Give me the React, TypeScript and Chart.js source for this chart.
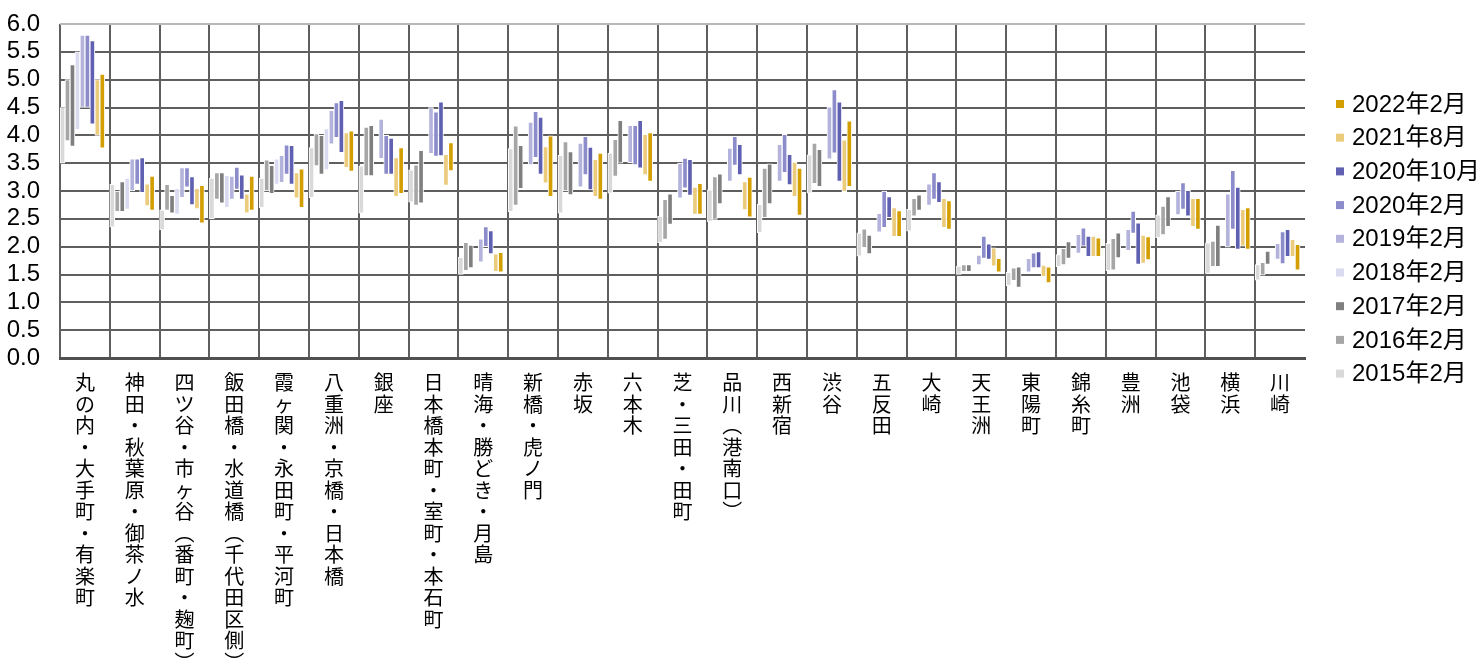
import { useEffect, useRef } from 'react';
import { Chart, registerables } from 'chart.js';

Chart.register(...registerables);

type Range = [number, number] | null;

// Office areas, left to right
const areas: string[] = [
  '丸の内・大手町・有楽町',
  '神田・秋葉原・御茶ノ水',
  '四ツ谷・市ヶ谷（番町・麹町）',
  '飯田橋・水道橋（千代田区側）',
  '霞ヶ関・永田町・平河町',
  '八重洲・京橋・日本橋',
  '銀座',
  '日本橋本町・室町・本石町',
  '晴海・勝どき・月島',
  '新橋・虎ノ門',
  '赤坂',
  '六本木',
  '芝・三田・田町',
  '品川（港南口）',
  '西新宿',
  '渋谷',
  '五反田',
  '大崎',
  '天王洲',
  '東陽町',
  '錦糸町',
  '豊洲',
  '池袋',
  '横浜',
  '川崎',
];

// Low / high of each survey, per area
const s2015: Range[] = [
  [3.5, 4.5], [2.35, 3.12], [2.3, 2.66], [2.5, 3.23], [2.7, 3.23],
  [2.88, 3.78], [2.6, 3.45], [2.8, 3.38], [1.5, 1.81], [2.63, 3.76],
  [2.6, 3.64], [2.96, 3.68], [2.07, 2.55], [2.45, 3.02], [2.25, 2.76],
  [2.96, 3.65], [1.83, 2.25], [2.28, 2.67], [1.5, 1.65], [1.3, 1.54],
  [1.64, 1.86], [1.57, 2.06], [2.16, 2.57], [1.52, 2.07], [1.4, 1.68],
];
const s2016: Range[] = [
  [3.9, 5.0], [2.63, 3.0], [2.65, 3.12], [2.85, 3.33], [3.0, 3.56],
  [3.45, 4.03], [3.27, 4.15], [2.74, 3.47], [1.57, 2.08], [2.74, 4.17],
  [3.0, 3.89], [3.26, 3.93], [2.13, 2.85], [2.49, 3.26], [2.52, 3.41],
  [3.13, 3.86], [1.98, 2.32], [2.55, 2.87], [1.55, 1.68], [1.39, 1.62],
  [1.67, 1.97], [1.58, 2.15], [2.21, 2.73], [1.64, 2.1], [1.49, 1.72],
];
const s2017: Range[] = [
  [3.8, 5.27], [2.63, 3.17], [2.6, 2.92], [2.78, 3.33], [2.95, 3.46],
  [3.3, 4.0], [3.27, 4.18], [2.78, 3.73], [1.62, 2.03], [3.04, 3.82],
  [2.93, 3.71], [3.5, 4.27], [2.4, 2.95], [2.77, 3.31], [2.77, 3.49],
  [3.08, 3.75], [1.87, 2.21], [2.65, 2.93], [1.55, 1.68], [1.27, 1.64],
  [1.79, 2.09], [1.8, 2.25], [2.36, 2.9], [1.64, 2.39], [1.68, 1.92],
];
const s2018: Range[] = [
  [4.1, 5.5], [2.67, 3.23], [2.58, 3.05], [2.7, 3.28], [3.12, 3.58],
  [3.38, 4.12], null, null, null, null,
  null, null, null, null, null,
  null, null, null, null, null,
  null, null, null, null, null,
];
const s2019: Range[] = [
  [4.5, 5.8], [3.0, 3.58], [2.88, 3.42], [2.85, 3.27], [3.15, 3.64],
  [3.84, 4.45], [3.58, 4.29], [3.67, 4.5], [1.72, 2.14], [3.47, 4.24],
  [3.07, 3.86], [3.51, 4.18], [2.87, 3.5], [3.17, 3.77], [3.17, 3.84],
  [3.57, 4.51], [2.26, 2.6], [2.74, 3.13], [1.67, 1.85], [1.54, 1.79],
  [1.88, 2.22], [1.93, 2.31], [2.57, 3.0], [1.99, 2.95], [1.77, 2.06],
];
const s2020Feb: Range[] = [
  [4.5, 5.8], [3.12, 3.58], [3.07, 3.42], [3.03, 3.43], [3.3, 3.83],
  [3.96, 4.59], [3.3, 4.0], [3.62, 4.42], [2.0, 2.36], [3.6, 4.43],
  [3.29, 3.98], [3.47, 4.18], [3.05, 3.59], [3.46, 3.98], [3.33, 4.02],
  [3.68, 4.82], [2.34, 3.0], [2.85, 3.33], [1.79, 2.19], [1.62, 1.89],
  [2.01, 2.34], [2.24, 2.64], [2.67, 3.15], [2.31, 3.37], [1.69, 2.27],
];
const s2020Oct: Range[] = [
  [4.2, 5.7], [2.97, 3.6], [2.75, 3.26], [2.85, 3.29], [3.12, 3.82],
  [3.69, 4.63], [3.3, 3.95], [3.63, 4.6], [1.87, 2.29], [3.3, 4.33],
  [3.02, 3.79], [3.41, 4.27], [2.92, 3.57], [3.29, 3.84], [3.11, 3.66],
  [3.17, 4.6], [2.52, 2.9], [2.79, 3.17], [1.77, 2.05], [1.62, 1.91],
  [1.82, 2.19], [1.68, 2.43], [2.55, 3.01], [1.95, 3.07], [1.82, 2.31],
];
const s2021Aug: Range[] = [
  [4.0, 5.0], [2.73, 3.13], [2.68, 3.05], [2.6, 2.95], [2.87, 3.33],
  [3.42, 4.05], [2.9, 3.6], [3.1, 3.66], [1.55, 1.87], [3.14, 3.8],
  [2.9, 3.57], [3.29, 4.02], [2.58, 3.07], [2.66, 3.17], [2.9, 3.52],
  [2.99, 3.92], [2.18, 2.7], [2.34, 2.87], [1.65, 1.98], [1.46, 1.67],
  [1.82, 2.19], [1.7, 2.21], [2.36, 2.87], [2.01, 2.67], [1.82, 2.13],
];
const s2022Feb: Range[] = [
  [3.77, 5.1], [2.65, 3.27], [2.42, 3.1], [2.65, 3.27], [2.7, 3.4],
  [3.35, 4.08], [2.95, 3.78], [3.36, 3.87], [1.54, 1.9], [2.9, 3.99],
  [2.85, 3.68], [3.17, 4.05], [2.58, 3.14], [2.53, 3.25], [2.56, 3.41],
  [3.08, 4.26], [2.18, 2.65], [2.31, 2.83], [1.54, 1.79], [1.35, 1.64],
  [1.82, 2.16], [1.76, 2.18], [2.31, 2.87], [1.95, 2.7], [1.58, 2.04],
];

const seriesNames = [
  '2015年2月', '2016年2月', '2017年2月', '2018年2月', '2019年2月',
  '2020年2月', '2020年10月', '2021年8月', '2022年2月',
];
const seriesData = [s2015, s2016, s2017, s2018, s2019, s2020Feb, s2020Oct, s2021Aug, s2022Feb];
const seriesColors = [
  '#d9d9d9', '#a6a6a6', '#7f7f7f', '#dadaf0', '#b3b3dc',
  '#8c8ccb', '#6060b2', '#ebcb7c', '#d39e00',
];

const Y_MIN = 0;
const Y_MAX = 6;
const Y_STEP = 0.5;

const FONT = '"Liberation Sans", Arial, "Noto Sans CJK JP", sans-serif';
const GRID = '#5f5f5f';

// Category labels are stacked one character per line (vertical writing)
const verticalLabel = (s: string): string[] =>
  Array.from(s.replace('（', '︵').replace('）', '︶'));

// Legend column to the right of the plot, newest survey first
const sideLegend = {
  id: 'sideLegend',
  afterDraw(chart: Chart) {
    const { ctx, chartArea } = chart;
    const items = chart.data.datasets
      .filter((d) => d.label)
      .map((d) => ({ label: d.label as string, color: d.backgroundColor as string }))
      .reverse();
    ctx.save();
    ctx.font = `24px ${FONT}`;
    ctx.textBaseline = 'middle';
    const x = chartArea.right + 31;
    let y = chartArea.top + 80;
    for (const it of items) {
      ctx.fillStyle = it.color;
      ctx.fillRect(x, y - 4, 8, 8);
      ctx.fillStyle = '#000';
      ctx.fillText(it.label, x + 16, y + 1);
      y += 33.7;
    }
    ctx.restore();
  },
};

export default function App() {
  const canvasRef = useRef<HTMLCanvasElement | null>(null);

  useEffect(() => {
    const canvas = canvasRef.current;
    if (!canvas) return;

    const datasets: any[] = seriesNames.map((name, i) => ({
      label: name,
      data: seriesData[i],
      backgroundColor: seriesColors[i],
      borderColor: '#ffffff',
      borderWidth: 1,
      borderSkipped: false,
      categoryPercentage: 1,
      barPercentage: 1,
    }));
    // empty trailing slot: keeps the bar group toward the left of each category
    datasets.push({
      label: '',
      data: [],
      backgroundColor: 'transparent',
      borderWidth: 0,
      categoryPercentage: 1,
      barPercentage: 1,
    });

    const chart = new Chart(canvas, {
      type: 'bar',
      data: {
        labels: areas.map(verticalLabel),
        datasets,
      },
      options: {
        responsive: false,
        animation: false,
        events: [],
        layout: { padding: { left: 0, top: 24, right: 177, bottom: 0 } },
        plugins: {
          legend: { display: false },
          tooltip: { enabled: false },
        },
        scales: {
          x: {
            grid: {
              offset: true,
              drawTicks: false,
              lineWidth: 2,
              color: (c: any) => (c.type === 'tick' ? GRID : 'rgba(0,0,0,0)'),
            },
            border: { display: true, color: '#505050', width: 3 },
            ticks: {
              autoSkip: false,
              maxRotation: 0,
              minRotation: 0,
              padding: 16,
              color: '#000',
              font: { family: FONT, size: 20, lineHeight: 1.075 },
            },
            afterFit: (scale: any) => {
              scale.height = 307;
            },
          },
          y: {
            min: Y_MIN,
            max: Y_MAX,
            grid: {
              drawTicks: false,
              lineWidth: 2,
              color: (c: any) => (c.tick && c.tick.value === Y_MAX ? '#b8b8b8' : GRID),
            },
            border: { display: false },
            ticks: {
              stepSize: Y_STEP,
              autoSkip: false,
              padding: 20,
              color: '#000',
              font: { family: FONT, size: 24 },
              callback: (v: any) => Number(v).toFixed(1),
            },
            afterFit: (scale: any) => {
              scale.width = 60;
              scale.paddingTop = 0;
              scale.paddingBottom = 0;
            },
          },
        },
      },
      plugins: [sideLegend],
    });

    return () => chart.destroy();
  }, []);

  return (
    <div style={{ position: 'fixed', left: 0, top: 0, width: 1482, height: 665, background: '#fff' }}>
      <canvas ref={canvasRef} width={1482} height={665} />
    </div>
  );
}
